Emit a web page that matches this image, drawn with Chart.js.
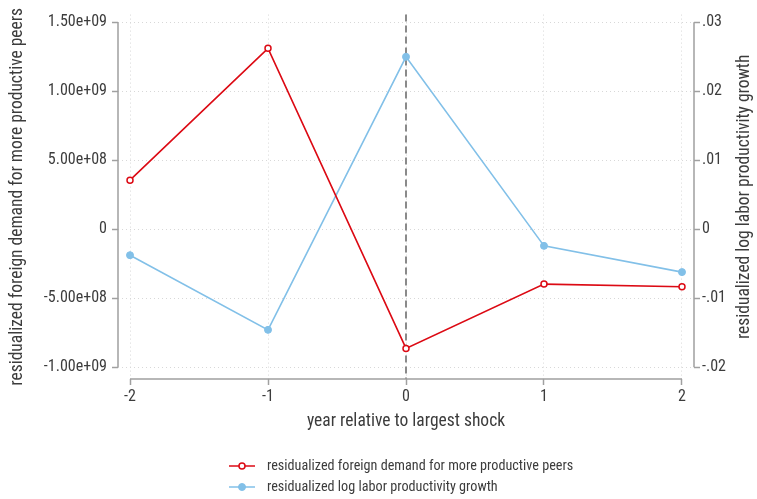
<!DOCTYPE html>
<html>
<head>
<meta charset="utf-8">
<script src="https://cdn.jsdelivr.net/npm/chart.js@4"></script>
<style>
html,body{margin:0;padding:0;background:#fff;}
#wrap{width:757px;height:499px;position:relative;}
</style>
</head>
<body>
<div id="wrap"><canvas id="c" width="757" height="499"></canvas></div>
<script>
// ---- data ----
const years = [-2, -1, 0, 1, 2];
const foreignDemand = [3.56e8, 1.311e9, -8.63e8, -3.97e8, -4.16e8];
const productivityGrowth = [-0.00375, -0.01457, 0.0250, -0.0024, -0.0062];
const xTickValues = [-2, -1, 0, 1, 2];
const leftTickValues = [-1e9, -5e8, 0, 5e8, 1e9, 1.5e9];
const leftTickLabels = ['-1.00e+09', '-5.00e+08', '0', '5.00e+08', '1.00e+09', '1.50e+09'];
const rightTickValues = [-0.02, -0.01, 0, 0.01, 0.02, 0.03];
const rightTickLabels = ['-.02', '-.01', '0', '.01', '.02', '.03'];
const shockYear = 0;
const seriesLabels = ['residualized foreign demand for more productive peers', 'residualized log labor productivity growth'];
const leftTitle = 'residualized foreign demand for more productive peers';
const rightTitle = 'residualized log labor productivity growth';
const xTitle = 'year relative to largest shock';

// ---- styles ----
const FONT = "'Liberation Sans Narrow', 'Roboto Condensed', Roboto, sans-serif";
const TEXT = '#3c3c3c';
const AXIS = '#a0a0a0';
const GRID = '#d8d8d8';
const RED = '#dc0a14';
const BLUE = '#82c0e8';
const TICK_SIZE = 16;
const TITLE_SIZE = 17.5;
const LEGEND_SIZE = 14.2;

const pts = (xs, ys) => xs.map((x, i) => ({x: x, y: ys[i]}));
const setTicks = vals => s => { s.ticks = vals.map(v => ({value: v})); };

const axesPlugin = {
  id: 'stataAxes',
  beforeDatasetsDraw(chart) {
    const ctx = chart.ctx, ca = chart.chartArea;
    const x = chart.scales.x, yl = chart.scales.y, yr = chart.scales.y2;
    ctx.save();
    // dashed reference line
    ctx.strokeStyle = '#8a8a8a';
    ctx.lineWidth = 2;
    ctx.setLineDash([7, 4]);
    const xs = x.getPixelForValue(shockYear);
    ctx.beginPath(); ctx.moveTo(xs, ca.top); ctx.lineTo(xs, ca.bottom); ctx.stroke();
    ctx.setLineDash([]);
    // axis lines spanning tick ranges
    ctx.strokeStyle = AXIS; ctx.lineWidth = 1.5;
    ctx.beginPath();
    ctx.moveTo(ca.left, yl.getPixelForValue(leftTickValues[leftTickValues.length-1]));
    ctx.lineTo(ca.left, yl.getPixelForValue(leftTickValues[0]));
    ctx.moveTo(ca.right, yr.getPixelForValue(rightTickValues[rightTickValues.length-1]));
    ctx.lineTo(ca.right, yr.getPixelForValue(rightTickValues[0]));
    ctx.moveTo(x.getPixelForValue(xTickValues[0]), ca.bottom);
    ctx.lineTo(x.getPixelForValue(xTickValues[xTickValues.length-1]), ca.bottom);
    ctx.stroke();
    ctx.restore();
  },
  afterDraw(chart) {
    const ctx = chart.ctx, ca = chart.chartArea;
    ctx.save();
    // right axis title, reading bottom-to-top
    ctx.fillStyle = TEXT;
    ctx.font = TITLE_SIZE + 'px ' + FONT;
    ctx.textAlign = 'center'; ctx.textBaseline = 'middle';
    ctx.translate(745, (ca.top + ca.bottom) / 2);
    ctx.rotate(-Math.PI / 2);
    ctx.fillText(rightTitle, 0, 0);
    ctx.restore();
    // legend
    ctx.save();
    const rows = [466, 487];
    chart.data.datasets.forEach((ds, i) => {
      const y = rows[i];
      ctx.strokeStyle = ds.borderColor; ctx.lineWidth = 1.5;
      ctx.beginPath(); ctx.moveTo(229, y); ctx.lineTo(255, y); ctx.stroke();
      ctx.beginPath(); ctx.arc(242, y, ds.pointRadius, 0, Math.PI * 2);
      ctx.fillStyle = ds.pointBackgroundColor; ctx.fill();
      ctx.lineWidth = ds.pointBorderWidth; ctx.strokeStyle = ds.pointBorderColor; ctx.stroke();
      ctx.fillStyle = TEXT;
      ctx.font = LEGEND_SIZE + 'px ' + FONT;
      ctx.textAlign = 'left'; ctx.textBaseline = 'middle';
      ctx.fillText(ds.label, 267, y);
    });
    ctx.restore();
  }
};

new Chart(document.getElementById('c'), {
  type: 'line',
  data: {
    datasets: [
      {
        label: seriesLabels[0], data: pts(years, foreignDemand), yAxisID: 'y',
        borderColor: RED, borderWidth: 1.6, pointRadius: 3, pointBorderWidth: 1.5,
        pointBackgroundColor: '#fff', pointBorderColor: RED, tension: 0
      },
      {
        label: seriesLabels[1], data: pts(years, productivityGrowth), yAxisID: 'y2',
        borderColor: BLUE, borderWidth: 1.6, pointRadius: 3.5, pointBorderWidth: 1,
        pointBackgroundColor: BLUE, pointBorderColor: BLUE, tension: 0
      }
    ]
  },
  options: {
    responsive: false,
    animation: false,
    layout: {padding: {top: 13, bottom: 64, left: 0, right: 0}},
    plugins: {legend: {display: false}, tooltip: {enabled: false}},
    scales: {
      x: {
        type: 'linear', min: -2.087, max: 2.087,
        afterBuildTicks: setTicks(xTickValues),
        afterFit: s => { s.height = 56; },
        grid: {color: GRID, tickColor: AXIS, tickLength: 6, lineWidth: 1, tickWidth: 1.5},
        border: {display: false, dash: [1, 3]},
        ticks: {color: TEXT, font: {family: FONT, size: TICK_SIZE}, padding: 2, maxRotation: 0,
                callback: v => String(v)},
        title: {display: true, text: xTitle, color: TEXT, font: {family: FONT, size: TITLE_SIZE}, padding: {top: 4, bottom: 3}}
      },
      y: {
        type: 'linear', position: 'left', min: -1.0844e9, max: 1.5556e9,
        afterBuildTicks: setTicks(leftTickValues),
        afterFit: s => { s.width = 118; },
        grid: {color: GRID, tickColor: AXIS, tickLength: 6, lineWidth: 1, tickWidth: 1.5},
        border: {display: false, dash: [1, 3]},
        ticks: {color: TEXT, font: {family: FONT, size: TICK_SIZE}, padding: 5,
                callback: v => leftTickLabels[leftTickValues.indexOf(v)]},
        title: {display: true, text: leftTitle, color: TEXT, font: {family: FONT, size: TITLE_SIZE}, padding: {top: 7.5, bottom: 0}}
      },
      y2: {
        type: 'linear', position: 'right', min: -0.02169, max: 0.03111,
        afterBuildTicks: setTicks(rightTickValues),
        afterFit: s => { s.width = 63; },
        grid: {display: true, drawOnChartArea: false, tickColor: AXIS, tickLength: 6, tickWidth: 1.5},
        border: {display: false},
        ticks: {color: TEXT, font: {family: FONT, size: TICK_SIZE}, padding: 2,
                callback: v => rightTickLabels[rightTickValues.indexOf(v)]}
      }
    }
  },
  plugins: [axesPlugin]
});
</script>
</body>
</html>
